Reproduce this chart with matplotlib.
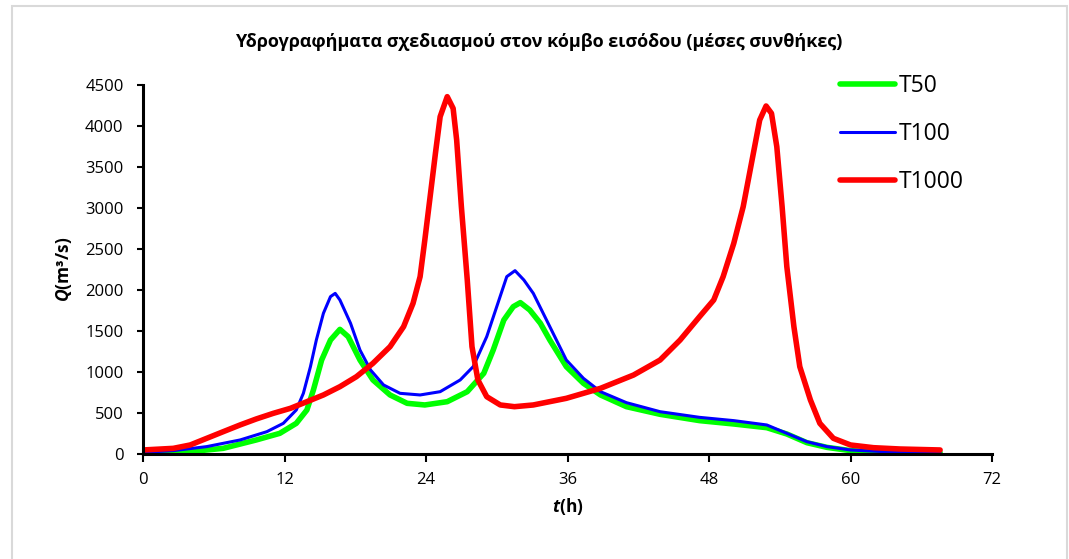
import matplotlib
matplotlib.use('Agg')
from matplotlib import pyplot as plt
from matplotlib.patches import Rectangle

plt.rcParams['font.family'] = ['Open Sans', 'DejaVu Sans']
plt.rcParams['mathtext.fontset'] = 'custom'
plt.rcParams['mathtext.rm'] = 'Open Sans'
plt.rcParams['mathtext.it'] = 'Open Sans:italic'
plt.rcParams['mathtext.bf'] = 'Open Sans:bold'
plt.rcParams['mathtext.bfit'] = 'Open Sans:italic:bold'

# hydrographs (t in hours, Q in m3/s)
t_50 = [0, 2, 4.0, 6.8, 9.6, 11.6, 13.0, 13.9, 14.45, 15.15, 15.9, 16.7, 17.4, 18.4, 19.5,
        20.95, 22.4, 23.9, 25.8, 27.5, 28.9, 29.7, 30.6, 31.4, 32.0, 32.8, 33.7, 34.5, 35.9,
        37.35, 38.8, 41.0, 43.85, 47.2, 50.1, 52.9, 54.6, 56.3, 58.0, 60.0, 62.8, 67.6]
q_50 = [0, 5, 29, 69, 171, 252, 374, 537, 780, 1146, 1390, 1520, 1431, 1146, 903,
        720, 618, 598, 638, 760, 984, 1268, 1634, 1797, 1846, 1756, 1594, 1390, 1065,
        862, 720, 577, 484, 407, 366, 321, 244, 138, 81, 41, 20, 16]

t_100 = [0, 2.57, 5.4, 8.23, 10.5, 11.9, 13.0, 13.6, 14.2, 14.7, 15.3, 15.9, 16.3, 16.7,
         17.6, 18.4, 19.3, 20.4, 21.8, 23.5, 25.2, 26.9, 28.0, 29.15, 30.0, 30.85, 31.55,
         32.3, 33.1, 34.5, 35.9, 37.35, 38.8, 41.0, 43.85, 47.2, 50.1, 52.9, 54.6, 56.3,
         58.0, 60.0, 62.8, 67.6]
q_100 = [20, 41, 90, 171, 272, 374, 537, 740, 1065, 1390, 1716, 1919, 1959, 1878,
         1594, 1268, 1024, 842, 740, 720, 760, 903, 1065, 1431, 1797, 2163, 2236,
         2122, 1959, 1553, 1146, 923, 760, 626, 516, 447, 407, 354, 252, 150,
         90, 49, 29, 20]

t_1000 = [0, 2.57, 4.0, 5.4, 6.8, 8.23, 9.6, 11.05, 12.5, 13.9, 15.3, 16.7, 18.1, 19.5,
          20.95, 22.1, 22.9, 23.5, 23.9, 24.35, 24.8, 25.2, 25.8, 26.3, 26.6, 27.0, 27.5,
          27.9, 28.4, 29.15, 30.3, 31.5, 33.1, 35.9, 38.8, 41.6, 43.85, 45.55, 47.2, 48.4,
          49.2, 50.1, 50.9, 51.6, 52.3, 52.84, 53.3, 53.75, 54.2, 54.6, 55.2, 55.7, 56.6,
          57.4, 58.55, 60.0, 61.95, 64.2, 67.6]
q_1000 = [49, 69, 110, 191, 272, 354, 427, 496, 557, 638, 720, 821, 943, 1106,
          1309, 1553, 1837, 2163, 2610, 3138, 3667, 4114, 4358, 4215, 3829, 3016, 2122,
          1309, 903, 699, 598, 577, 598, 679, 801, 963, 1146, 1390, 1675, 1878,
          2163, 2569, 3016, 3545, 4073, 4244, 4154, 3748, 3016, 2285, 1553, 1065, 659,
          374, 191, 110, 77, 61, 49]

x_ticks = [0, 12, 24, 36, 48, 60, 72]
y_ticks = [0, 500, 1000, 1500, 2000, 2500, 3000, 3500, 4000, 4500]

fig = plt.figure(figsize=(10.69, 5.59), dpi=100)
fig.patches.append(Rectangle((12 / 1069, -0.02), 1055 / 1069, 1.02 - 6 / 559,
                             transform=fig.transFigure, fill=False,
                             edgecolor='#d9d9d9', linewidth=1.5))

ax = fig.add_axes([143 / 1069, 1 - 454 / 559, 849 / 1069, 369 / 559])
ax.plot(t_50, q_50, color='#00ff00', linewidth=4.0, solid_capstyle='round',
        solid_joinstyle='round', label='T50')
ax.plot(t_100, q_100, color='#0000ff', linewidth=2.2, solid_capstyle='round',
        solid_joinstyle='round', label='T100')
ax.plot(t_1000, q_1000, color='#ff0000', linewidth=4.0, solid_capstyle='round',
        solid_joinstyle='round', label='T1000')

ax.set_xlim(0, 72)
ax.set_ylim(0, 4500)
ax.set_xticks(x_ticks)
ax.set_yticks(y_ticks)
ax.tick_params(axis='both', labelsize=12, width=1.5, direction='out')
ax.tick_params(axis='x', length=6, pad=7)
ax.tick_params(axis='y', length=4, pad=10)
for side in ['top', 'right']:
    ax.spines[side].set_visible(False)
for side in ['left', 'bottom']:
    ax.spines[side].set_linewidth(2.2)

ax.set_xlabel(r'$\mathbfit{t}$(h)', fontsize=12.5, fontweight='bold', labelpad=6)
ax.set_ylabel(r'$\mathbfit{Q}$(m³/s)', fontsize=12.5, fontweight='bold', labelpad=8)
fig.text((232 + 846) / 2 / 1069, 1 - 42 / 559,
         'Υδρογραφήματα σχεδιασμού στον κόμβο εισόδου (μέσες συνθήκες)',
         ha='center', va='center', fontsize=13, fontweight='bold')

ax.legend(loc='upper left', bbox_to_anchor=(840 / 1069, 1 - 74 / 559),
          bbox_transform=fig.transFigure, frameon=False, fontsize=16.5,
          handlelength=2.4, handletextpad=0.15, labelspacing=1.05,
          borderpad=0, borderaxespad=0)

plt.savefig('out.png', dpi=100)
plt.close()
